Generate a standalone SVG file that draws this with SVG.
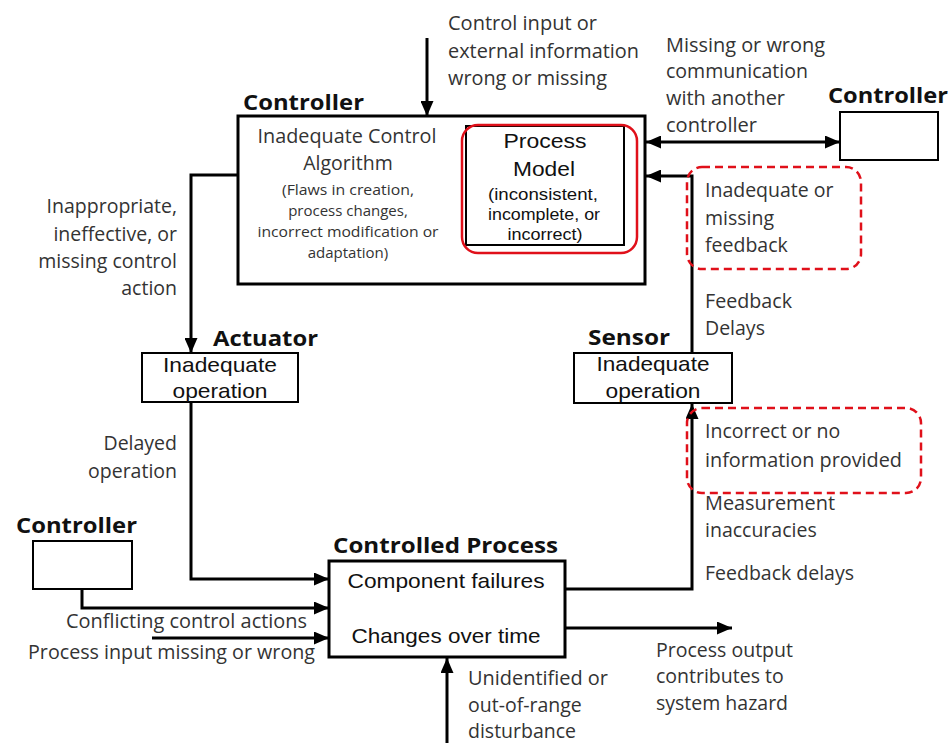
<svg xmlns="http://www.w3.org/2000/svg" width="951" height="743" viewBox="0 0 951 743">
<style>
.box{fill:#fff;stroke:#000;stroke-width:3}
.sbox{fill:#fff;stroke:#000;stroke-width:2}
.red{fill:none;stroke:#e0101a;stroke-width:2.5}
.dash{stroke-dasharray:8,5}
.conn{fill:none;stroke:#000;stroke-width:3}
.c{font-family:"Open Sans","Liberation Sans",sans-serif;font-size:19.5px;fill:#333}
.cs{font-family:"Open Sans","Liberation Sans",sans-serif;font-size:15px;fill:#333}
.a{font-family:"Liberation Sans",Arial,sans-serif;font-size:21px;fill:#111}
.as{font-family:"Liberation Sans",Arial,sans-serif;font-size:16.5px;fill:#111}
.b{font-family:"Open Sans","Liberation Sans",sans-serif;font-size:21.5px;font-weight:bold;fill:#111}
.m{text-anchor:middle}
.e{text-anchor:end}
</style>
<defs>
<marker id="ah" viewBox="0 0 15 13" refX="15" refY="6.5" markerWidth="15" markerHeight="13" markerUnits="userSpaceOnUse" orient="auto-start-reverse">
<path d="M0,0 L15,6.5 L0,13 z" fill="#000"/>
</marker>
</defs>
<rect width="951" height="743" fill="#fff"/>

<g id="connectors">
<line class="conn" x1="427" y1="38" x2="427" y2="116" marker-end="url(#ah)"/>
<line class="conn" x1="646" y1="142" x2="840" y2="142" marker-start="url(#ah)" marker-end="url(#ah)"/>
<polyline class="conn" points="692,353 692,176 646,176" marker-end="url(#ah)"/>
<polyline class="conn" points="238,175 191,175 191,353" marker-end="url(#ah)"/>
<polyline class="conn" points="191,402 191,579 329,579" marker-end="url(#ah)"/>
<polyline class="conn" points="82,589 82,608 329,608" marker-end="url(#ah)"/>
<line class="conn" x1="152" y1="638" x2="329" y2="638" marker-end="url(#ah)"/>
<polyline class="conn" points="565,589 692,589 692,404" marker-end="url(#ah)"/>
<line class="conn" x1="565" y1="628" x2="732" y2="628" marker-end="url(#ah)"/>
<line class="conn" x1="447" y1="743" x2="447" y2="658" marker-end="url(#ah)"/>
</g>

<g id="labels">
<text class="c" x="448" y="30" textLength="149" lengthAdjust="spacingAndGlyphs">Control input or</text>
<text class="c" x="448" y="58" textLength="191" lengthAdjust="spacingAndGlyphs">external information</text>
<text class="c" x="448" y="85" textLength="159" lengthAdjust="spacingAndGlyphs">wrong or missing</text>
<text class="c" x="666" y="52" textLength="159" lengthAdjust="spacingAndGlyphs">Missing or wrong</text>
<text class="c" x="666" y="78" textLength="142" lengthAdjust="spacingAndGlyphs">communication</text>
<text class="c" x="666" y="105" textLength="119" lengthAdjust="spacingAndGlyphs">with another</text>
<text class="c" x="666" y="132" textLength="91" lengthAdjust="spacingAndGlyphs">controller</text>
<text class="c e" x="177" y="213">Inappropriate,</text>
<text class="c e" x="177" y="241">ineffective, or</text>
<text class="c e" x="177" y="268">missing control</text>
<text class="c e" x="177" y="295">action</text>
<text class="c e" x="177" y="450">Delayed</text>
<text class="c e" x="177" y="478">operation</text>
<text class="c" x="705" y="308" textLength="87" lengthAdjust="spacingAndGlyphs">Feedback</text>
<text class="c" x="705" y="335">Delays</text>
<text class="c" x="705" y="510" textLength="130" lengthAdjust="spacingAndGlyphs">Measurement</text>
<text class="c" x="705" y="537">inaccuracies</text>
<text class="c" x="705" y="580">Feedback delays</text>
<text class="c" x="66" y="628" textLength="241" lengthAdjust="spacingAndGlyphs">Conflicting control actions</text>
<text class="c" x="28" y="659" textLength="287" lengthAdjust="spacingAndGlyphs">Process input missing or wrong</text>
<text class="c" x="656" y="657" textLength="137" lengthAdjust="spacingAndGlyphs">Process output</text>
<text class="c" x="656" y="683">contributes to</text>
<text class="c" x="656" y="710">system hazard</text>
<text class="c" x="468" y="685" textLength="140" lengthAdjust="spacingAndGlyphs">Unidentified or</text>
<text class="c" x="468" y="712">out-of-range</text>
<text class="c" x="468" y="738">disturbance</text>
</g>

<g id="controller">
<text class="b" x="243" y="110" textLength="121" lengthAdjust="spacingAndGlyphs">Controller</text>
<rect class="box" x="238" y="116" width="407" height="168"/>
<text class="c m" x="347" y="143" textLength="179" lengthAdjust="spacingAndGlyphs">Inadequate Control</text>
<text class="c m" x="348" y="170">Algorithm</text>
<text class="cs m" x="348" y="195" textLength="132" lengthAdjust="spacingAndGlyphs">(Flaws in creation,</text>
<text class="cs m" x="348" y="216">process changes,</text>
<text class="cs m" x="348" y="237" textLength="181" lengthAdjust="spacingAndGlyphs">incorrect modification or</text>
<text class="cs m" x="348" y="258">adaptation)</text>
</g>

<g id="process-model">
<rect class="sbox" x="466" y="126" width="158" height="119"/>
<rect class="red" x="462" y="125" width="175" height="128" rx="16"/>
<text class="a m" x="545" y="148" textLength="83" lengthAdjust="spacingAndGlyphs">Process</text>
<text class="a m" x="544" y="176" textLength="62" lengthAdjust="spacingAndGlyphs">Model</text>
<text class="as m" x="543" y="200" textLength="110" lengthAdjust="spacingAndGlyphs">(inconsistent,</text>
<text class="as m" x="544" y="220" textLength="112" lengthAdjust="spacingAndGlyphs">incomplete, or</text>
<text class="as m" x="545" y="240" textLength="75" lengthAdjust="spacingAndGlyphs">incorrect)</text>
</g>

<g id="controller-right">
<text class="b" x="828" y="103" textLength="120" lengthAdjust="spacingAndGlyphs">Controller</text>
<rect class="sbox" x="840" y="112" width="98" height="48"/>
</g>

<g id="feedback-note">
<rect class="red dash" x="687" y="167" width="174" height="102" rx="15"/>
<text class="c" x="705" y="197">Inadequate or</text>
<text class="c" x="705" y="225">missing</text>
<text class="c" x="705" y="252">feedback</text>
</g>

<g id="actuator">
<text class="b" x="213" y="346" textLength="105" lengthAdjust="spacingAndGlyphs">Actuator</text>
<rect class="sbox" x="142" y="353" width="156" height="49"/>
<text class="a m" x="220" y="372" textLength="114" lengthAdjust="spacingAndGlyphs">Inadequate</text>
<text class="a m" x="220" y="398" textLength="95" lengthAdjust="spacingAndGlyphs">operation</text>
</g>

<g id="sensor">
<text class="b" x="588" y="345" textLength="82" lengthAdjust="spacingAndGlyphs">Sensor</text>
<rect class="sbox" x="574" y="353" width="158" height="50"/>
<text class="a m" x="653" y="371" textLength="113" lengthAdjust="spacingAndGlyphs">Inadequate</text>
<text class="a m" x="653" y="398" textLength="95" lengthAdjust="spacingAndGlyphs">operation</text>
</g>

<g id="sensor-note">
<rect class="red dash" x="687" y="408" width="234" height="85" rx="15"/>
<text class="c" x="705" y="438">Incorrect or no</text>
<text class="c" x="705" y="467" textLength="197" lengthAdjust="spacingAndGlyphs">information provided</text>
</g>

<g id="controller-left">
<text class="b" x="16" y="533" textLength="121" lengthAdjust="spacingAndGlyphs">Controller</text>
<rect class="sbox" x="33" y="541" width="99" height="48"/>
</g>

<g id="controlled-process">
<text class="b" x="333" y="553" textLength="225" lengthAdjust="spacingAndGlyphs">Controlled Process</text>
<rect class="box" x="329" y="561" width="236" height="96"/>
<text class="a m" x="446" y="588" textLength="197" lengthAdjust="spacingAndGlyphs">Component failures</text>
<text class="a m" x="446" y="643" textLength="189" lengthAdjust="spacingAndGlyphs">Changes over time</text>
</g>
</svg>
